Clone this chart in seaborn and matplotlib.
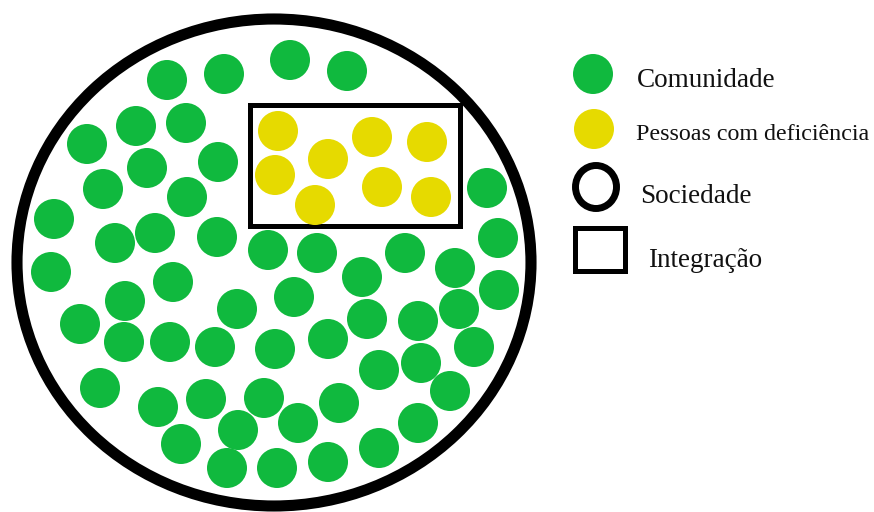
import matplotlib
matplotlib.use("Agg")
import matplotlib.pyplot as plt
from matplotlib.patches import Ellipse, Rectangle
import seaborn as sns
import pandas as pd

sns.set_theme(style="white")
plt.rcParams['font.family'] = ['Liberation Serif', 'DejaVu Serif']

# dot centres (pixels, y down)
comunidade_x = [167, 224, 290, 347, 87, 136, 186, 147, 218, 103, 187, 54, 115, 155, 217, 268,
                317, 405, 51, 173, 362, 455, 487, 498, 499, 125, 80, 237, 294, 367, 418, 459,
                124, 170, 215, 275, 328, 474, 100, 379, 421, 450, 158, 206, 264, 339, 298, 418,
                181, 238, 379, 227, 277, 328]
comunidade_y = [80, 74, 60, 71, 144, 126, 123, 168, 162, 189, 197, 219, 243, 233, 237, 250,
                253, 253, 272, 282, 277, 268, 188, 238, 290, 301, 324, 309, 297, 319, 321, 309,
                342, 342, 347, 349, 339, 347, 388, 370, 363, 391, 407, 399, 398, 403, 423, 423,
                444, 430, 448, 468, 468, 462]
deficiencia_x = [278, 328, 372, 427, 275, 315, 382, 431]
deficiencia_y = [131, 159, 137, 142, 175, 205, 187, 197]

labels = ["Comunidade", "Pessoas com deficiência", "Sociedade", "Integração"]

pts = pd.DataFrame({
    "x": comunidade_x + deficiencia_x,
    "y": comunidade_y + deficiencia_y,
    "grupo": [labels[0]] * len(comunidade_x) + [labels[1]] * len(deficiencia_x),
})
cores = {labels[0]: "#10b93e", labels[1]: "#e6da00"}

fig = plt.figure(figsize=(8.74, 5.12), dpi=100)
ax = fig.add_axes([0, 0, 1, 1])

# sociedade (big ring) and integracao (box)
ax.add_patch(Ellipse((274, 262.5), 514, 487, fill=False, ec="black", lw=8))
ax.add_patch(Rectangle((249.5, 104.5), 210, 121, fill=False, ec="black", lw=3.6))

sns.scatterplot(data=pts, x="x", y="y", hue="grupo", palette=cores, s=830,
                linewidth=0, legend=False, ax=ax, zorder=3)

# legend drawn by hand
leg = pd.DataFrame({"x": [593, 594], "y": [74, 129], "grupo": labels[:2]})
sns.scatterplot(data=leg, x="x", y="y", hue="grupo", palette=cores, s=830,
                linewidth=0, legend=False, ax=ax)
ax.add_patch(Ellipse((596, 187), 41, 43, fill=False, ec="black", lw=5))
ax.add_patch(Rectangle((574.5, 227.5), 50, 43, fill=False, ec="black", lw=3.6))

ax.text(637, 87, labels[0], fontsize=19.5, va="baseline", color="#111111")
ax.text(636, 140, labels[1], fontsize=17.3, va="baseline", color="#111111")
ax.text(640, 203, labels[2], fontsize=19.5, va="baseline", color="#111111")
ax.text(648, 267, labels[3], fontsize=19.5, va="baseline", color="#111111")

ax.set_xlim(0, 874)
ax.set_ylim(512, 0)
ax.set_aspect("auto")
ax.axis("off")

fig.savefig("out.png", dpi=100, facecolor="white")
